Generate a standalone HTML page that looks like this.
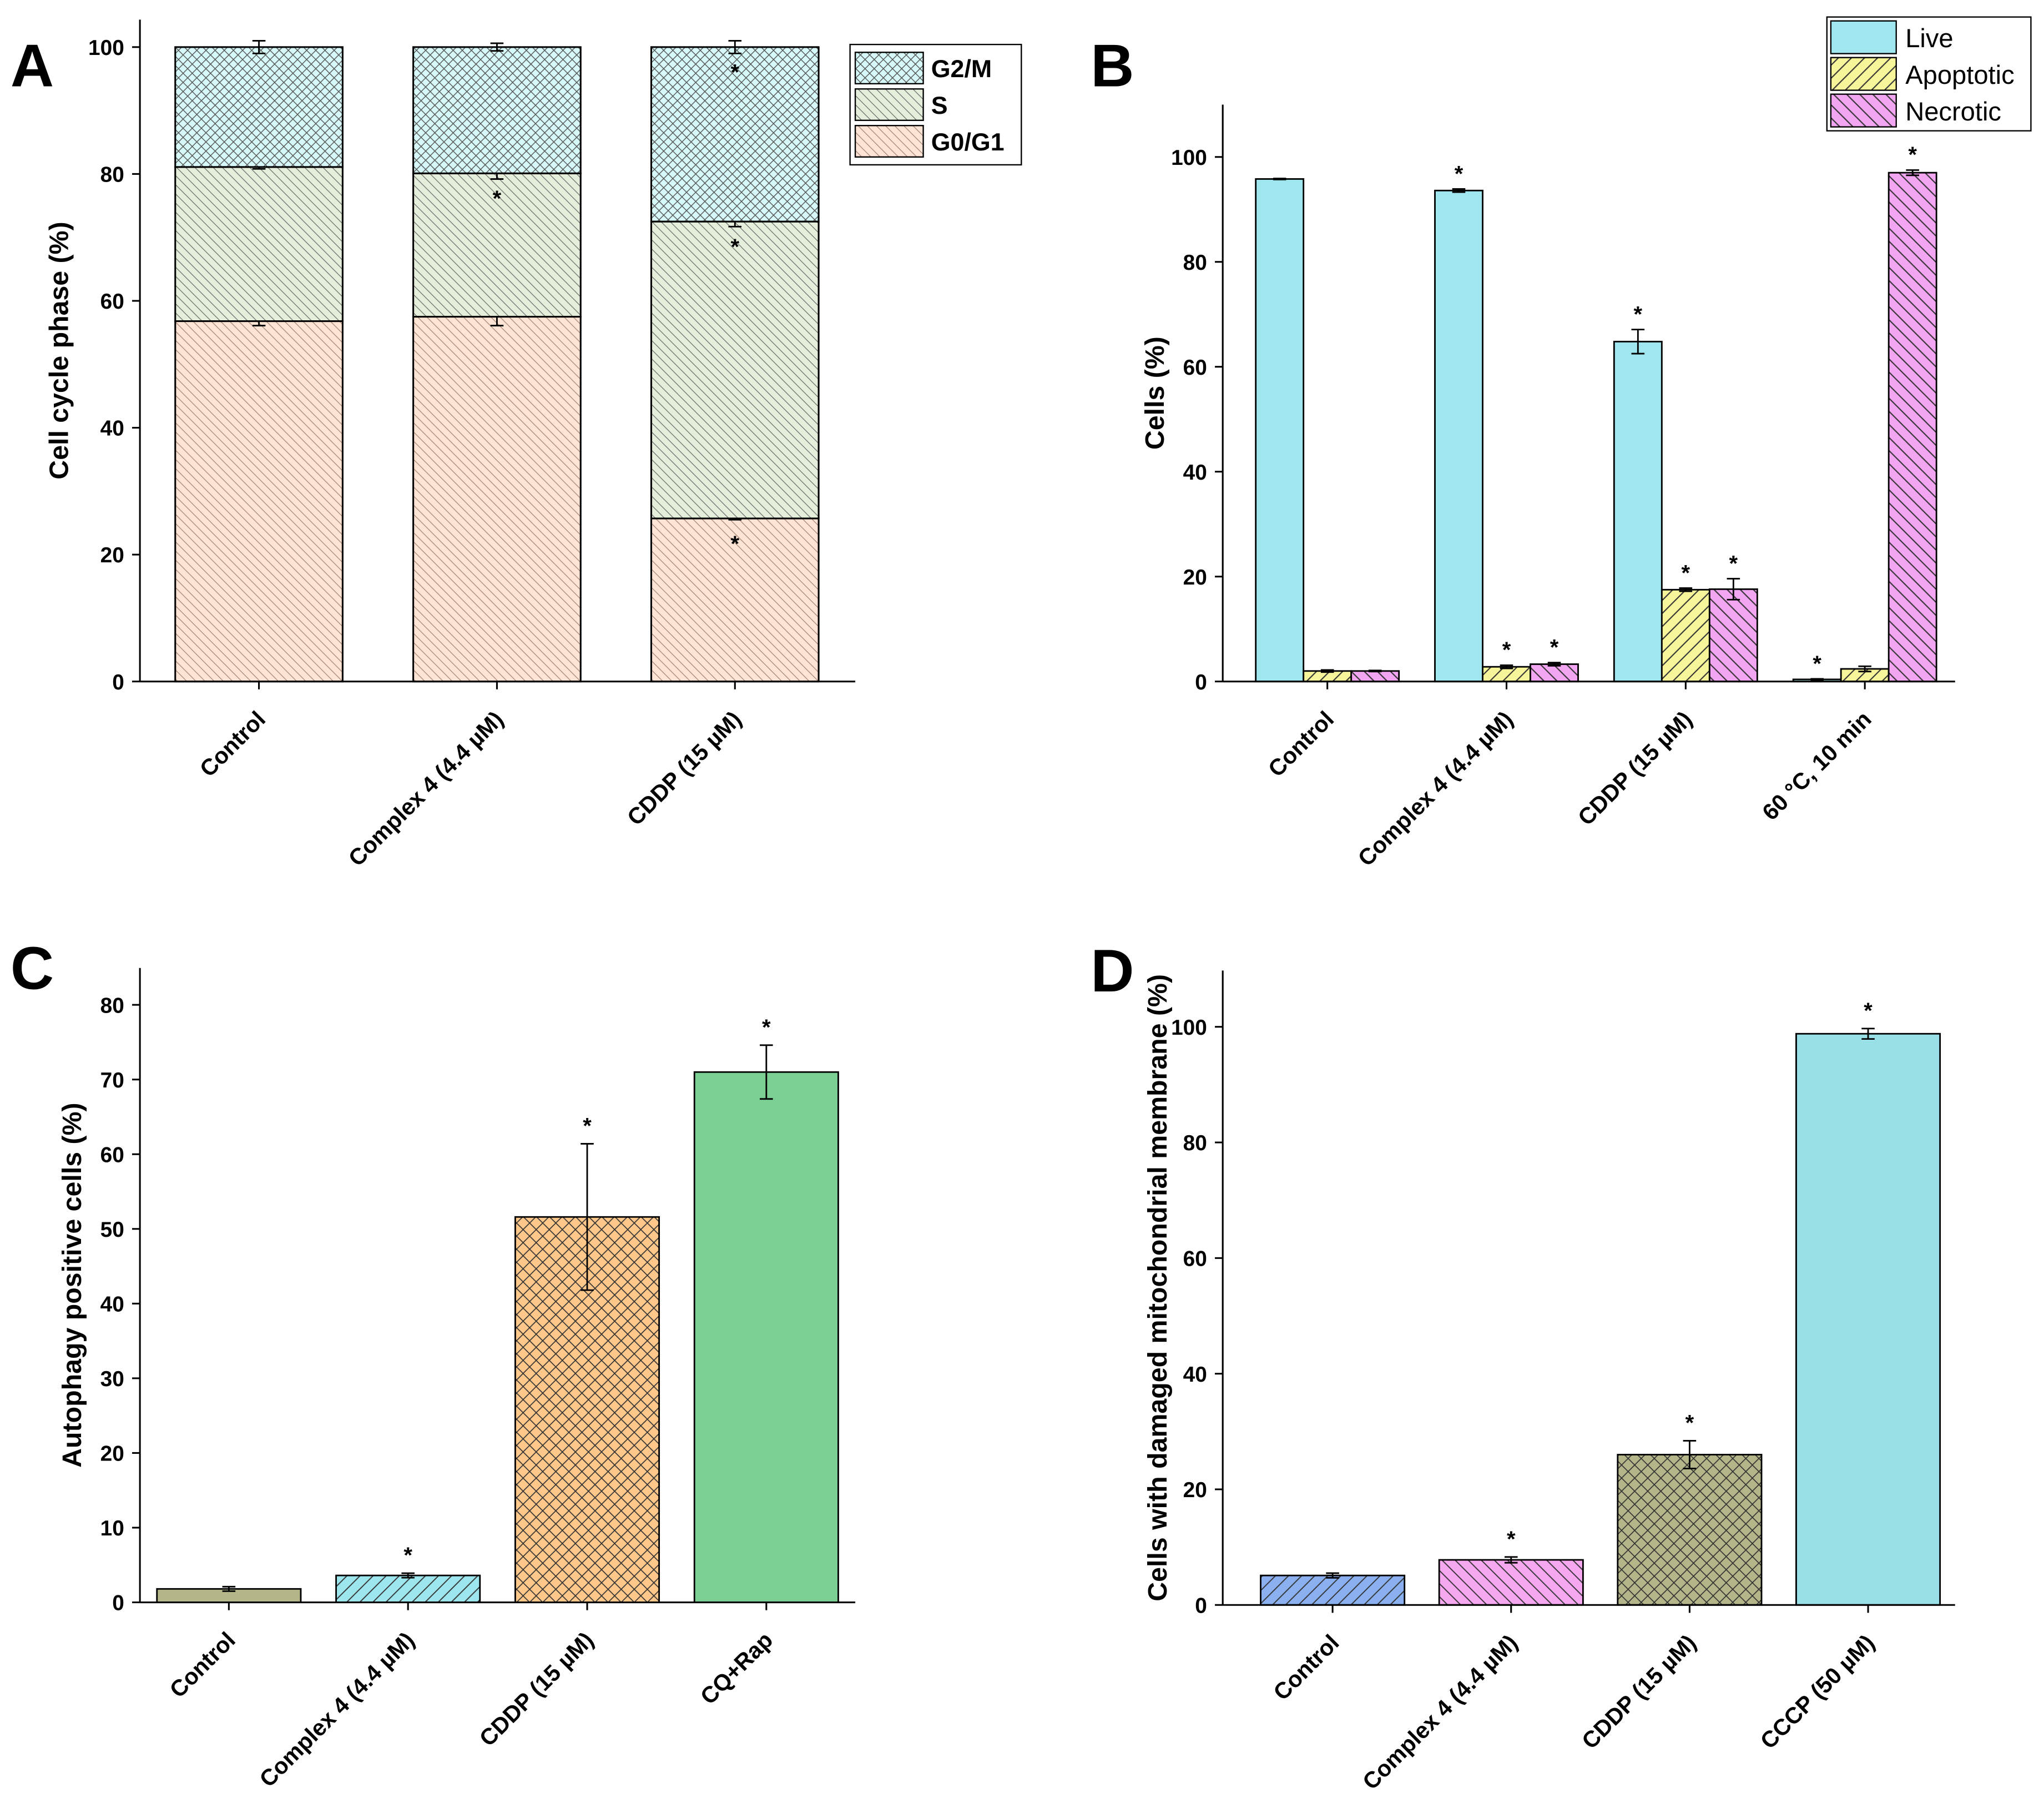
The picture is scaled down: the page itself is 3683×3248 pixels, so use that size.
<!DOCTYPE html>
<html><head><meta charset="utf-8"><style>
html,body{margin:0;padding:0;background:#fff}
svg{display:block}
text{font-family:"Liberation Sans",Arial,sans-serif;font-weight:bold;fill:#000}
</style></head><body>
<svg id="fig" xmlns="http://www.w3.org/2000/svg" width="3683" height="3248" viewBox="0 0 1563 1378.4">
<defs>
<pattern id="pX" width="7" height="7" patternUnits="userSpaceOnUse"><rect width="7" height="7" fill="#d6f8f8"/><path d="M0,0L7,7M7,0L0,7" stroke="#555" stroke-width="0.6"/></pattern>
<pattern id="pS" width="7" height="7" patternUnits="userSpaceOnUse"><rect width="7" height="7" fill="#e4eedb"/><path d="M-1,-1L8,8M-1,6L1,8M6,-1L8,1" stroke="#666" stroke-width="0.5"/></pattern>
<pattern id="pG" width="7" height="7" patternUnits="userSpaceOnUse"><rect width="7" height="7" fill="#fde4d4"/><path d="M-1,-1L8,8M-1,6L1,8M6,-1L8,1" stroke="#a08070" stroke-width="0.5"/></pattern>
<pattern id="pLive" width="8" height="8" patternUnits="userSpaceOnUse"><rect width="8" height="8" fill="#a0e6ee"/></pattern>
<pattern id="pApo" width="10" height="10" patternUnits="userSpaceOnUse"><rect width="10" height="10" fill="#f7f59a"/><path d="M0,10L10,0M-2,2L2,-2M8,12L12,8" stroke="#333" stroke-width="0.9"/></pattern>
<pattern id="pNec" width="10" height="10" patternUnits="userSpaceOnUse"><rect width="10" height="10" fill="#f2a5f0"/><path d="M0,0L10,10M-2,8L2,12M8,-2L12,2" stroke="#333" stroke-width="0.9"/></pattern>
<pattern id="pOl" width="10" height="10" patternUnits="userSpaceOnUse"><rect width="10" height="10" fill="#b5b58a"/></pattern>
<pattern id="pCy" width="10" height="10" patternUnits="userSpaceOnUse"><rect width="10" height="10" fill="#9de6ee"/><path d="M0,10L10,0M-2,2L2,-2M8,12L12,8" stroke="#333" stroke-width="0.8"/></pattern>
<pattern id="pOr" width="10" height="10" patternUnits="userSpaceOnUse"><rect width="10" height="10" fill="#ffc88a"/><path d="M0,10L10,0M0,0L10,10" stroke="#333" stroke-width="0.7"/></pattern>
<pattern id="pGr" width="10" height="10" patternUnits="userSpaceOnUse"><rect width="10" height="10" fill="#7ccf93"/></pattern>
<pattern id="pBl" width="10" height="10" patternUnits="userSpaceOnUse"><rect width="10" height="10" fill="#8ab0f0"/><path d="M0,10L10,0M-2,2L2,-2M8,12L12,8" stroke="#333" stroke-width="0.8"/></pattern>
<pattern id="pPk" width="10" height="10" patternUnits="userSpaceOnUse"><rect width="10" height="10" fill="#f5a8f0"/><path d="M0,0L10,10M-2,8L2,12M8,-2L12,2" stroke="#333" stroke-width="0.8"/></pattern>
<pattern id="pOx" width="10" height="10" patternUnits="userSpaceOnUse"><rect width="10" height="10" fill="#b5b58a"/><path d="M0,10L10,0M0,0L10,10" stroke="#333" stroke-width="0.7"/></pattern>
<pattern id="pCy2" width="10" height="10" patternUnits="userSpaceOnUse"><rect width="10" height="10" fill="#98e0e6"/></pattern>
</defs>
</svg>
<script>
// Panel A data
const aCats=["Control","Complex 4 (4.4 µM)","CDDP (15 µM)"];
const aG1=[56.8,57.5,25.7];
const aS=[24.3,22.6,46.8];
const aG2M=[18.9,19.9,27.5];
const aErrG1=[0.7,1.4,0.2];
const aErrS=[0.3,0.9,0.8];
const aErrG2M=[1.0,0.6,1.0];
const aTicks=[0,20,40,60,80,100];
// Panel B data
const bCats=["Control","Complex 4 (4.4 µM)","CDDP (15 µM)","60 °C, 10 min"];
const bLive=[95.8,93.6,64.8,0.4];
const bApo=[2.0,2.8,17.5,2.4];
const bNec=[2.0,3.3,17.6,97.0];
const bErrLive=[0.1,0.3,2.3,0.1];
const bErrApo=[0.2,0.3,0.3,0.5];
const bErrNec=[0.1,0.3,2.0,0.5];
const bTicks=[0,20,40,60,80,100];
// Panel C data
const cCats=["Control","Complex 4 (4.4 µM)","CDDP (15 µM)","CQ+Rap"];
const cVals=[1.8,3.6,51.6,71.0];
const cErr=[0.3,0.3,9.8,3.6];
const cTicks=[0,10,20,30,40,50,60,70,80];
// Panel D data
const dCats=["Control","Complex 4 (4.4 µM)","CDDP (15 µM)","CCCP (50 µM)"];
const dVals=[5.1,7.8,26.0,98.8];
const dErr=[0.4,0.5,2.4,0.9];
const dTicks=[0,20,40,60,80,100];

const svg=document.getElementById('fig');
const NS="http://www.w3.org/2000/svg";
function mk(tag,attrs,parent){const e=document.createElementNS(NS,tag);for(const k in attrs)e.setAttribute(k,attrs[k]);(parent||svg).appendChild(e);return e;}
function txt(s,x,y,size,anchor,parent,extra){const t=mk('text',Object.assign({x:x,y:y,'font-size':size,'text-anchor':anchor||'middle'},extra||{}),parent);t.textContent=s;return t;}

function axes(g,x0,x1,yb,yt,ticks,ysc,title,cats,xsc,letter,lx,ly){
  mk('line',{x1:x0,y1:yb,x2:x1,y2:yb,stroke:'#000','stroke-width':1.3},g);
  mk('line',{x1:x0,y1:yb,x2:x0,y2:yt,stroke:'#000','stroke-width':1.3},g);
  ticks.forEach(v=>{const y=ysc(v);
    const tk=mk('line',{x1:x0-6,y1:y,x2:x0,y2:y,stroke:'#000','stroke-width':1.3},g);
    
    const t=txt(String(v),x0-12,y+6,16.5,'end',g);
    });
  cats.forEach((c,i)=>{const x=xsc(i);
    const tk=mk('line',{x1:x,y1:yb,x2:x,y2:yb+6,stroke:'#000','stroke-width':1.3},g);
    
    const t=txt(c,x+6,yb+30,17.5,'end',g,{transform:`rotate(-45 ${x+6} ${yb+30})`});
    });
  const yc=(yb+yt)/2;
  const t=txt(title,lx,yc,20.5,'middle',g,{transform:`rotate(-90 ${lx} ${yc})`});
  
  const L=txt(letter,ly[0],ly[1],46,'start',g);
  
}
function err(g,x,y0,y1,hw){
  const e=mk('path',{d:`M${x-hw},${y0}H${x+hw}M${x},${y0}V${y1}M${x-hw},${y1}H${x+hw}`,stroke:'#000','stroke-width':1.2,fill:'none'},g);
  
}
function star(g,x,y){const s=txt('*',x,y,17,'middle',g);}

// ---- Panel A
{
const g=mk('g',{});
const yb=521,k=4.85;const ysc=v=>yb-v*k;const xsc=i=>198+i*182;const w=128;
const starsG1=[false,false,true],starsS=[false,true,true],starsG2=[false,false,true];
aCats.forEach((c,i)=>{
  const x=xsc(i);let base=0;
  [[aG1,'pG','bar-g0g1',aErrG1,starsG1],[aS,'pS','bar-s',aErrS,starsS],[aG2M,'pX','bar-g2m',aErrG2M,starsG2]].forEach(([arr,p,nm,ea,st])=>{
    const top=base+arr[i];
    const r=mk('rect',{x:x-w/2,y:ysc(top),width:w,height:(arr[i])*k,fill:`url(#${p})`,stroke:'#000','stroke-width':1.3},g);
    
    err(g,x,ysc(top+ea[i]),ysc(top-ea[i]),5);
    if(st[i])star(g,x,ysc(top)+25);
    base=top;});
});
axes(g,107,654,yb,15,aTicks,ysc,'Cell cycle phase (%)',aCats,xsc,'A',52,[8,66]);
const lg=mk('g',{},g);
mk('rect',{x:650,y:34,width:131,height:92,fill:'#fff',stroke:'#000','stroke-width':1},lg);
[['G2/M','pX',40],['S','pS',68],['G0/G1','pG',96]].forEach(([l,p,y])=>{
  const e=mk('g',{},lg);
  mk('rect',{x:654,y:y,width:52,height:24,fill:`url(#${p})`,stroke:'#000','stroke-width':1},e);
  txt(l,712,y+19,19,'start',e);});
}
// ---- Panel B
{
const g=mk('g',{});
const yb=521,k=4.01;const ysc=v=>yb-v*k;const xsc=i=>1015+i*137;const w=36.5;
const stL=[false,true,true,true],stA=[false,true,true,false],stN=[false,true,true,true];
bCats.forEach((c,i)=>{
  [[bLive,'pLive','bar-live',bErrLive,stL,-1],[bApo,'pApo','bar-apoptotic',bErrApo,stA,0],[bNec,'pNec','bar-necrotic',bErrNec,stN,1]].forEach(([arr,p,nm,ea,st,o])=>{
    const x=xsc(i)+o*w;const v=arr[i];
    const r=mk('rect',{x:x-w/2,y:ysc(v),width:w,height:v*k,fill:`url(#${p})`,stroke:'#000','stroke-width':1.2},g);
    
    err(g,x,ysc(v+ea[i]),ysc(v-ea[i]),5);
    if(st[i])star(g,x,ysc(v+ea[i])-6);});
});
axes(g,935,1495,yb,80,bTicks,ysc,'Cells (%)',bCats,xsc,'B',890,[834,66]);
const lg=mk('g',{},g);
mk('rect',{x:1397,y:13,width:156,height:87,fill:'#fff',stroke:'#000','stroke-width':1},lg);
[['Live','pLive',16],['Apoptotic','pApo',44],['Necrotic','pNec',72]].forEach(([l,p,y])=>{
  const e=mk('g',{},lg);
  mk('rect',{x:1400,y:y,width:50,height:25,fill:`url(#${p})`,stroke:'#000','stroke-width':1},e);
  const t=txt(l,1457,y+20,20,'start',e);t.setAttribute('font-weight','normal');t.style.fontWeight='normal';});
}
// ---- Panel C
{
const g=mk('g',{});
const yb=1225,k=5.71;const ysc=v=>yb-v*k;const xsc=i=>175+i*137;const w=110;
const pats=['pOl','pCy','pOr','pGr'];const st=[false,true,true,true];
cCats.forEach((c,i)=>{const x=xsc(i),v=cVals[i];
  const r=mk('rect',{x:x-w/2,y:ysc(v),width:w,height:v*k,fill:`url(#${pats[i]})`,stroke:'#000','stroke-width':1.2},g);
  
  err(g,x,ysc(v+cErr[i]),ysc(v-cErr[i]),5);
  if(st[i])star(g,x,ysc(v+cErr[i])-8);});
axes(g,107,654,yb,740,cTicks,ysc,'Autophagy positive cells (%)',cCats,xsc,'C',62,[8,756]);
}
// ---- Panel D
{
const g=mk('g',{});
const yb=1227,k=4.42;const ysc=v=>yb-v*k;const xsc=i=>1019+i*136.5;const w=110;
const pats=['pBl','pPk','pOx','pCy2'];const st=[false,true,true,true];
dCats.forEach((c,i)=>{const x=xsc(i),v=dVals[i];
  const r=mk('rect',{x:x-w/2,y:ysc(v),width:w,height:v*k,fill:`url(#${pats[i]})`,stroke:'#000','stroke-width':1.2},g);
  
  err(g,x,ysc(v+dErr[i]),ysc(v-dErr[i]),5);
  if(st[i])star(g,x,ysc(v+dErr[i])-8);});
axes(g,935,1495,yb,742,dTicks,ysc,'Cells with damaged mitochondrial membrane (%)',dCats,xsc,'D',892,[834,758]);
}
</script>
</body></html>
